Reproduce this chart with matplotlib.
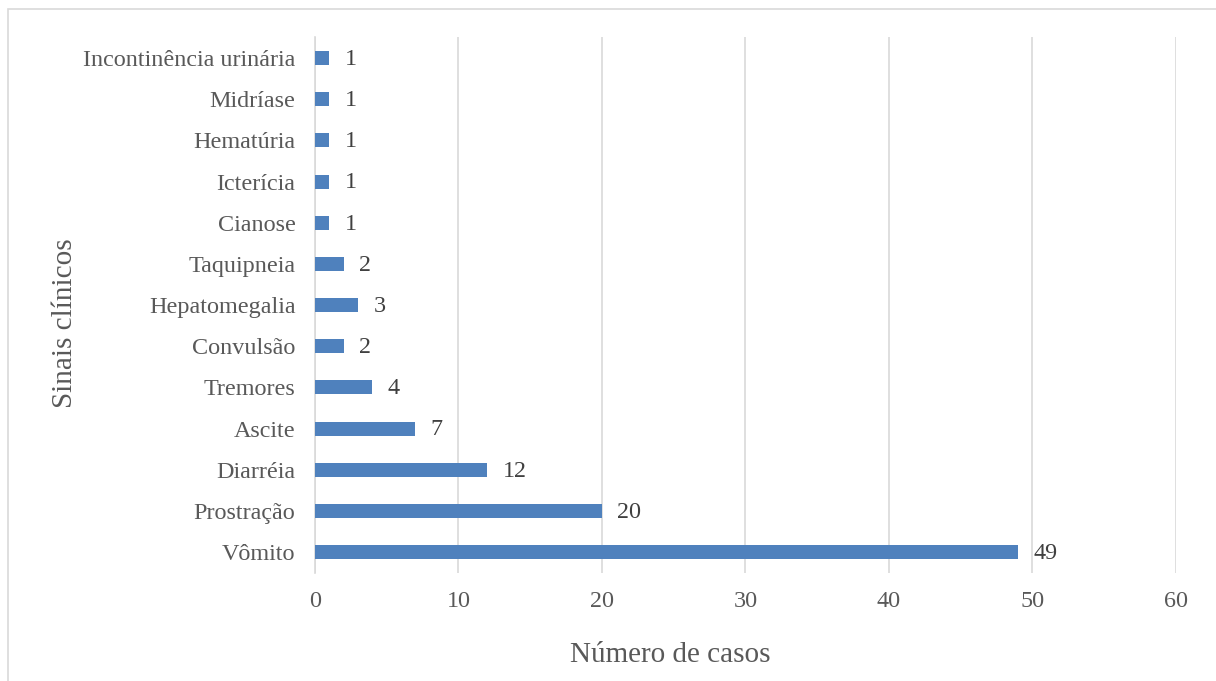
import numpy as np
import matplotlib
matplotlib.use("Agg")
import matplotlib.pyplot as plt
from matplotlib.patches import Rectangle

# Clinical signs and number of cases (top to bottom)
sinais = ["Incontinência urinária", "Midríase", "Hematúria", "Icterícia", "Cianose",
          "Taquipneia", "Hepatomegalia", "Convulsão", "Tremores", "Ascite",
          "Diarréia", "Prostração", "Vômito"]
casos = [1, 1, 1, 1, 1, 2, 3, 2, 4, 7, 12, 20, 49]
xticks = [0, 10, 20, 30, 40, 50, 60]

plt.rcParams['font.family'] = ['Liberation Serif', 'DejaVu Serif']

fig = plt.figure(figsize=(12.16, 6.81), dpi=100)
ax = fig.add_axes([0.259, 0.1592, 0.708, 0.7858])

#Outer chart frame
fig.patches.append(Rectangle((8/1216, -0.05), 1.2, 1 - 9/681 + 0.05,
                             transform=fig.transFigure, fill=False,
                             edgecolor='#D9D9D9', linewidth=1.2))

y = np.arange(len(sinais))
ax.barh(y, casos, height=0.34, color='#4F81BD', zorder=3)
for yi, v in zip(y, casos):
    ax.annotate(str(v), (v, yi), xytext=(11, -1), textcoords='offset points',
                va='center', ha='left', fontsize=17.4, color='#404040')

ax.set_ylim(len(sinais) - 0.5, -0.5)
ax.set_xlim(0, 60)
ax.set_xticks(xticks)
ax.set_yticks(y)
ax.set_yticklabels(sinais)
ax.tick_params(axis='both', length=0, labelsize=17.4, colors='#595959')
ax.tick_params(axis='x', pad=13)
ax.tick_params(axis='y', pad=14)
ax.grid(axis='x', color='#D9D9D9', linewidth=1.2, zorder=0)
for s in ['top', 'right', 'bottom']:
    ax.spines[s].set_visible(False)
ax.spines['left'].set_color('#D9D9D9')
ax.spines['left'].set_linewidth(1.2)

# axis titles placed on the figure
fig.text(670/1216, 1 - 655/681, "Número de casos", fontsize=21,
         color='#595959', ha='center', va='center')
fig.text(65/1216, 1 - 323/681, "Sinais clínicos", rotation=90, fontsize=21,
         color='#595959', ha='center', va='center')

fig.savefig("out.png", dpi=100)
